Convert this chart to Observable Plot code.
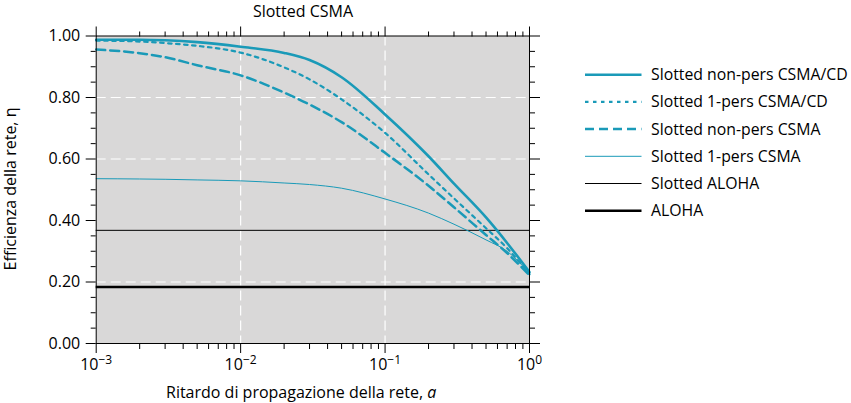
<!DOCTYPE html>
<html><head><meta charset="utf-8">
<script src="https://cdn.jsdelivr.net/npm/d3@7"></script>
<script src="https://cdn.jsdelivr.net/npm/@observablehq/plot@0.6"></script>
<style>
body{margin:0;background:#fff;font-family:"Open Sans",sans-serif;}
#chart{position:relative;width:851px;height:403px;}
</style></head><body><div id="chart"></div>
<script>
// ---- data ----
const delays = [0.001, 0.002, 0.003, 0.005, 0.01, 0.02, 0.03, 0.05, 0.1, 0.2, 0.3, 0.5, 0.7, 1.0];
const slottedNonPersCSMACD = [0.988, 0.988, 0.986, 0.980, 0.965, 0.945, 0.922, 0.866, 0.745, 0.609, 0.520, 0.410, 0.327, 0.232];
const slotted1PersCSMACD   = [0.985, 0.982, 0.977, 0.968, 0.946, 0.898, 0.859, 0.794, 0.685, 0.550, 0.472, 0.375, 0.310, 0.225];
const slottedNonPersCSMA   = [0.956, 0.944, 0.931, 0.905, 0.872, 0.816, 0.777, 0.720, 0.620, 0.513, 0.443, 0.353, 0.294, 0.222];
const slotted1PersCSMA     = [0.536, 0.535, 0.534, 0.532, 0.529, 0.522, 0.517, 0.505, 0.470, 0.424, 0.388, 0.337, 0.300, 0.228];
const slottedAlohaValue = [0.368];
const alohaValue = [0.184];
const seriesNames = ["Slotted non-pers CSMA/CD", "Slotted 1-pers CSMA/CD", "Slotted non-pers CSMA", "Slotted 1-pers CSMA", "Slotted ALOHA", "ALOHA"];
const yMajorTicks = [0, 0.2, 0.4, 0.6, 0.8, 1.0];
const yMinorTicks = [0.05,0.1,0.15,0.25,0.3,0.35,0.45,0.5,0.55,0.65,0.7,0.75,0.85,0.9,0.95];
const yGrid = [0.2, 0.6, 0.8];
const xMajorTicks = [0.001, 0.01, 0.1, 1];
const xTickLabels = ["10^−3", "10^−2", "10^−1", "10^0"];
const xMinorTicks = [2,3,4,5,6,7,8,9].flatMap(m => [0.001, 0.01, 0.1].map(d => +(m * d).toPrecision(3)));
const xGrid = [0.01, 0.1];
const titleText = "Slotted CSMA";
const xLabelText = "Ritardo di propagazione della rete, ";
const xLabelItalic = "a";
const yLabelText = "Efficienza della rete, η";

// ---- styles ----
const blue = "#1a9ab8";
const styles = [
  {stroke: blue, width: 2.6, dash: null},
  {stroke: blue, width: 2.2, dash: "3.5,4.5"},
  {stroke: blue, width: 2.5, dash: "9,5"},
  {stroke: blue, width: 1, dash: null},
  {stroke: "black", width: 1, dash: null},
  {stroke: "black", width: 2.5, dash: null}
];
const curveSeries = [slottedNonPersCSMACD, slotted1PersCSMACD, slottedNonPersCSMA, slotted1PersCSMA];

const lineMarks = curveSeries.map((vals, i) => {
  const rows = delays.map((a, j) => ({a, eff: vals[j], series: seriesNames[i]}));
  return Plot.line(rows, {x: "a", y: "eff", stroke: styles[i].stroke, strokeWidth: styles[i].width,
    strokeDasharray: styles[i].dash, curve: "monotone-x"});
});

const fs = 16;
const plot = Plot.plot({
  width: 851, height: 403,
  marginLeft: 95.7, marginRight: 322, marginTop: 35.5, marginBottom: 60,
  style: {fontFamily: "'Open Sans', sans-serif", fontSize: fs + "px", color: "black", background: "white"},
  x: {type: "log", domain: [0.001, 1], axis: null},
  y: {domain: [0, 1], axis: null},
  marks: [
    Plot.frame({fill: "#d9d8d8", stroke: null}),
    Plot.gridX(xGrid, {stroke: "white", strokeOpacity: 1, strokeWidth: 1.2, strokeDasharray: "10,5"}),
    Plot.gridY(yGrid, {stroke: "white", strokeOpacity: 1, strokeWidth: 1.2, strokeDasharray: "10,5"}),
    Plot.ruleY(slottedAlohaValue, {stroke: styles[4].stroke, strokeWidth: styles[4].width}),
    Plot.ruleY(alohaValue, {stroke: styles[5].stroke, strokeWidth: styles[5].width}),
    ...lineMarks,
    Plot.frame({stroke: "black", strokeWidth: 1}),
    Plot.axisY(yMajorTicks, {anchor: "left", tickSize: 10, tickPadding: 6, tickFormat: d3.format(".2f"), fontSize: fs, label: null}),
    Plot.axisY(yMinorTicks, {anchor: "left", tickSize: 5, fill: "none", label: null}),
    Plot.axisY(yMajorTicks, {anchor: "right", tickSize: 10, fill: "none", label: null}),
    Plot.axisY(yMinorTicks, {anchor: "right", tickSize: 5, fill: "none", label: null}),
    Plot.axisX(xMajorTicks, {anchor: "bottom", tickSize: 10, tickPadding: 5, fontSize: fs, label: null,
      tickFormat: d => xTickLabels[xMajorTicks.indexOf(d)]}),
    Plot.axisX(xMinorTicks, {anchor: "bottom", tickSize: 6, fill: "none", label: null}),
    Plot.axisX(xMajorTicks, {anchor: "top", tickSize: 10, fill: "none", label: null}),
    Plot.axisX(xMinorTicks, {anchor: "top", tickSize: 5, fill: "none", label: null})
  ]
});
document.getElementById("chart").appendChild(plot);

const svg = d3.select(plot);
// superscript exponents on x tick labels
svg.selectAll('g[aria-label="x-axis tick label"] text').each(function() {
  const s = this.textContent;
  if (!s || s.indexOf("^") < 0) return;
  const [base, exp] = s.split("^");
  const t = d3.select(this);
  t.text(null);
  t.append("tspan").text(base);
  t.append("tspan").attr("dy", "-0.5em").attr("font-size", "12px").text(exp);
});

const txt = svg.append("g").attr("font-family", "'Open Sans', sans-serif").attr("font-size", fs).attr("fill", "black");
txt.append("text").attr("x", 303).attr("y", 17).attr("text-anchor", "middle").text(titleText);
const xl = txt.append("text").attr("x", 166).attr("y", 398).attr("text-anchor", "start");
xl.append("tspan").text(xLabelText);
xl.append("tspan").attr("font-style", "italic").text(xLabelItalic);
txt.append("text").attr("transform", "translate(15.5,189) rotate(-90)").attr("text-anchor", "middle").text(yLabelText);

// legend
const lg = svg.append("g");
seriesNames.forEach((name, i) => {
  const y = 74.7 + i * 27.2;
  const st = styles[i];
  lg.append("line").attr("x1", 585).attr("x2", 641.5).attr("y1", y).attr("y2", y)
    .attr("stroke", st.stroke).attr("stroke-width", st.width).attr("stroke-dasharray", st.dash);
  lg.append("text").attr("x", 651).attr("y", y + 5.5).attr("text-anchor", "start")
    .attr("font-family", "'Open Sans', sans-serif")
    .attr("font-size", 15.8).attr("fill", "black").text(name);
});
</script></body></html>
